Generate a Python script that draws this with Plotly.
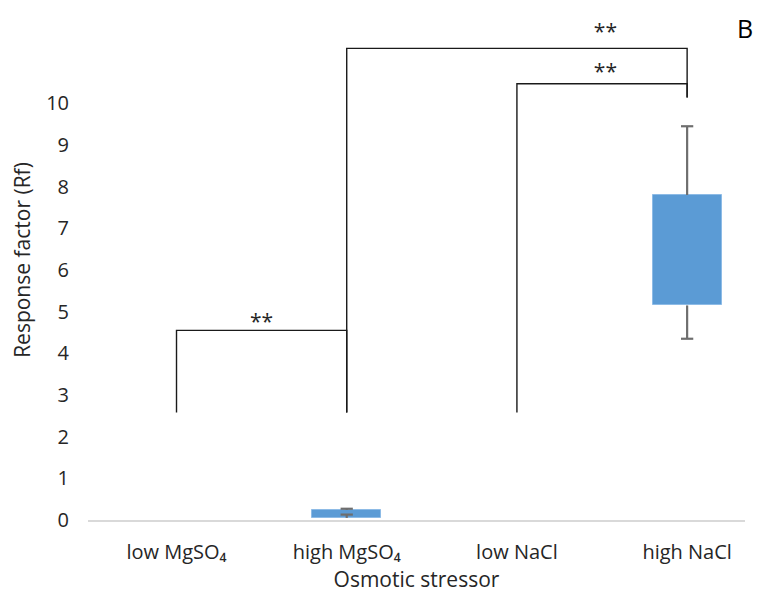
import plotly.graph_objects as go

# Categories and box statistics (response factor)
categories = ["low MgSO₄", "high MgSO₄", "low NaCl", "high NaCl"]
q1 = [None, 0.05, None, 5.15]
q3 = [None, 0.24, None, 7.80]
whisker_low = [None, 0.13, None, 4.35]
whisker_high = [None, 0.27, None, 9.45]

# Significance brackets between categories
bracket_left = [0, 1, 2]
bracket_right = [1, 3, 3]
bracket_foot_left = [2.58, 2.58, 2.58]
bracket_foot_right = [2.58, 10.14, 10.14]
bracket_top = [4.55, 11.32, 10.47]
star_x = [0.5, 2.52, 2.52]
star_y = [4.72, 11.66, 10.70]
star_text = ["**", "**", "**"]

y_ticks = list(range(0, 11))

FONT = "Open Sans"
TEXT = "#262626"
BOX_FILL = "#5b9bd5"
BOX_EDGE = "#8dbbe6"
WHISKER = "#6e6e6e"

idx = list(range(len(categories)))
box_x = [i for i in idx if q1[i] is not None]
box_base = [q1[i] for i in box_x]
box_height = [q3[i] - q1[i] for i in box_x]

fig = go.Figure()

fig.add_trace(go.Bar(
    x=box_x, y=box_height, base=box_base, width=0.405,
    marker=dict(color=BOX_FILL, line=dict(color=BOX_EDGE, width=1)),
    hoverinfo="skip", showlegend=False,
))

# whiskers with end caps
cap = 0.036
wx, wy = [], []
for i in box_x:
    for start, end in ((q3[i], whisker_high[i]), (q1[i], whisker_low[i])):
        wx += [i, i, None, i - cap, i + cap, None]
        wy += [start, end, None, end, end, None]
fig.add_trace(go.Scatter(
    x=wx, y=wy, mode="lines", line=dict(color=WHISKER, width=2.2),
    hoverinfo="skip", showlegend=False,
))

# brackets
bx, by = [], []
for l, r, fl, fr, top in zip(bracket_left, bracket_right, bracket_foot_left,
                             bracket_foot_right, bracket_top):
    bx += [l, l, r, r, None]
    by += [fl, top, top, fr, None]
fig.add_trace(go.Scatter(
    x=bx, y=by, mode="lines", line=dict(color="#1a1a1a", width=1.4),
    hoverinfo="skip", showlegend=False,
))

fig.add_trace(go.Scatter(
    x=star_x, y=star_y, mode="text", text=star_text,
    textfont=dict(family=FONT, size=21, color=TEXT),
    hoverinfo="skip", showlegend=False,
))

fig.add_annotation(
    x=1.0, xref="paper", y=11.8, yref="y", text="B", showarrow=False,
    font=dict(family=FONT, size=25, color="#000000"), xanchor="center", yanchor="middle",
)

fig.update_layout(
    width=763, height=598,
    margin=dict(l=88, r=18, t=0, b=78),
    paper_bgcolor="white", plot_bgcolor="white",
    font=dict(family=FONT, color=TEXT),
    bargap=0,
)

fig.update_xaxes(
    range=[-0.52, 3.34],
    tickmode="array", tickvals=idx, ticktext=categories,
    tickfont=dict(family=FONT, size=20, color=TEXT),
    showgrid=False, zeroline=False,
    showline=True, linecolor="#d9d9d9", linewidth=1.6,
    ticks="", ticklabelstandoff=13,
    title=dict(text="Osmotic stressor", font=dict(family=FONT, size=21, color=TEXT), standoff=8),
)

fig.update_yaxes(
    range=[0, 12.48],
    tickmode="array", tickvals=y_ticks,
    tickfont=dict(family=FONT, size=20, color=TEXT),
    showgrid=False, zeroline=False, showline=False,
    ticks="", ticklabelstandoff=18,
    title=dict(text="Response factor (Rf)", font=dict(family=FONT, size=21, color=TEXT), standoff=9),
)

fig.write_html("out.html")
